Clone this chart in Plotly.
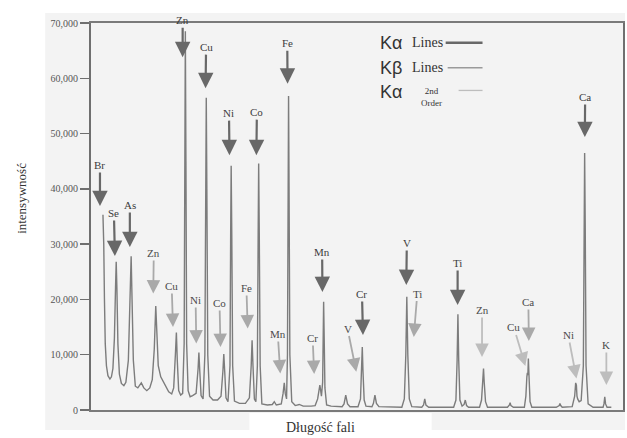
import plotly.graph_objects as go

# ---- spectrum trace (x: wavelength position, arbitrary units; y: intensity) ----
spec_x = [103.0, 103.8, 104.5, 105.3, 106.5, 108, 110, 111.5,
          113, 114.5, 115.6, 116.3, 117, 118, 119.5, 121.5, 124,
          126, 128.5, 130.3, 131.3, 132.2, 133.5, 135.5,
          138, 141.5, 144, 147, 150,
          152.5, 154.5, 156, 157, 158.5, 161, 165, 169, 172,
          174, 175.7, 176.7, 177.6, 179, 181, 183,
          184.5, 185.2, 185.7, 186.3, 187, 188.5, 190.5,
          193, 196.5, 198.5, 199.3, 200.2, 201.5, 203.5,
          205.3, 206.2, 206.7, 207.3, 208.2, 210, 213.5, 218,
          221.5, 223.4, 224.3, 225.2, 226.5, 228.5,
          230.5, 231.2, 231.7, 232.3, 233.2, 235, 240, 246,
          250, 251.8, 252.7, 253.6, 255, 256.5,
          258, 258.8, 259.3, 259.9, 260.8, 262.5, 268, 273, 275, 277, 282,
          283.8, 285, 286, 287.3,
          288.2, 288.9, 289.3, 289.8, 290.6, 292.5, 296, 300, 304, 312, 316,
          318.5, 320, 320.7, 321.5, 322.3,
          323.5, 324.1, 324.5, 325, 325.8, 327.5, 332, 343,
          345, 346.7, 348.5, 351, 359,
          361.5, 362.6, 363.3, 364, 365.2, 367, 373,
          374.5, 376, 377.5, 380, 403,
          405.5, 407, 408, 409, 410.5, 413, 423,
          424.8, 426, 427.2, 430, 455,
          457.3, 458.5, 459.3, 460.1, 461.3, 463.5, 465.5, 466.7, 468, 470, 481,
          483, 484.3, 485, 485.7, 487, 489, 509,
          511, 511.7, 512.5, 515, 526,
          527.5, 528.5, 529, 529.5, 530, 530.7, 531.7, 533.5, 558,
          561, 561.7, 562.5, 564, 574,
          576.5, 577.5, 578.2, 578.8, 579.5, 581, 583,
          585.2, 586, 586.5, 587.1, 587.9, 590, 595, 605,
          605.9, 606.7, 607.5, 609, 613.3]

spec_y = [35300, 30000, 20000, 12000, 8000, 6200, 5600, 6000,
          7500, 13000, 22000, 26800, 22000, 12000, 6500, 4800, 4400,
          5000, 9000, 20000, 27800, 20000, 9000, 4300,
          4000, 4900, 4000, 3500, 4000,
          5500, 11000, 18800, 14000, 8000, 6000, 4500, 3300, 2900,
          4000, 10000, 14000, 9000, 3500, 2700, 3000,
          12000, 45000, 68500, 45000, 12000, 3500, 2400,
          2600, 3000, 7500, 10400, 7000, 2600, 2000,
          10000, 40000, 56500, 40000, 10000, 2500, 1800, 1800,
          2500, 7000, 10100, 7000, 2200, 1500,
          8000, 32000, 44200, 32000, 8000, 1600, 1200, 1200,
          2200, 8000, 12600, 8000, 2000, 1500,
          8000, 32000, 44600, 32000, 8000, 1100, 900, 1000, 1500, 900, 1100,
          3000, 4900, 3000, 2000,
          10000, 40000, 56800, 40000, 10000, 1500, 800, 1000, 700, 700, 800,
          2000, 4000, 4500, 3600, 2500,
          5000, 14000, 19600, 14000, 4000, 900, 700, 600,
          1100, 2700, 1100, 600, 600,
          2000, 7000, 11400, 7000, 1800, 700, 600,
          1200, 2700, 1200, 600, 500,
          2000, 10000, 20500, 10000, 2000, 600, 500,
          900, 2000, 900, 500, 500,
          1800, 9000, 17300, 9000, 1800, 700, 1000, 1800, 800, 500, 500,
          1800, 5000, 7500, 5000, 1500, 500, 500,
          900, 1300, 800, 500, 500,
          2500, 6000, 6700, 6300, 9300, 6000, 1500, 500, 500,
          800, 1200, 800, 500, 600,
          2500, 4900, 4500, 2500, 2000, 1500, 1700,
          8000, 33000, 46500, 33000, 8000, 1100, 500, 500,
          1100, 2400, 1100, 500, 500]

assert len(spec_x) == len(spec_y)

# ---- line identifications (arrow tip = data position, label offset in px) ----
ka_labels = ['Br', 'Se', 'As', 'Zn', 'Cu', 'Ni', 'Co', 'Fe', 'Mn', 'Cr', 'V', 'Ti', 'Ca']
ka_tip_x = [100, 115, 130, 183, 206, 230, 257, 288.3, 323.3, 364, 407.5, 459, 586.7]
ka_tip_y = [36880, 27840, 29470, 63820, 58220, 46100, 46100, 59030, 21330, 13560, 22600, 18980, 49360]
ka_dx = [0, -1, 0, 0, 0.5, -0.5, 0.5, -0.3, -0.3, -1, 0.5, 0, 0.3]
ka_dy = [-41, -43, -42, -37, -41, -42, -43, -40.5, -40, -41, -42, -42, -40]

kb_labels = ['Zn', 'Cu', 'Ni', 'Co', 'Fe', 'Mn', 'Cr', 'V', 'Ti', 'Ca']
kb_tip_x = [153.5, 173.3, 196.7, 221, 248.3, 281, 315, 357.3, 415, 530.5]
kb_tip_y = [21060, 15010, 12020, 11390, 14740, 6600, 6510, 6920, 13200, 12480]
kb_dx = [0.5, -1.3, -0.7, -1, -1.3, -2.5, -1.5, -8.8, 3.5, -0.5]
kb_dy = [-40.5, -41, -43.5, -44, -40.5, -39.5, -36, -43.2, -43.5, -39]

so_labels = ['Zn', 'Cu', 'Ni', 'K']
so_tip_x = [483.5, 527, 578.3, 608.3]
so_tip_y = [9580, 7960, 5700, 4520]
so_dx = [0, -11.5, -8.3, 0]
so_dy = [-47, -38.5, -43.5, -40]

y_ticks = [0, 10000, 20000, 30000, 40000, 50000, 60000, 70000]

SERIF = 'Liberation Serif, Times New Roman, serif'
SANS = 'Liberation Sans, Arial, sans-serif'
GREY_BG = '#f3f3f3'
KA_COL = '#686868'
KB_COL = '#a9a9a9'
SO_COL = '#bdbdbd'

fig = go.Figure()
fig.add_trace(go.Scatter(x=spec_x, y=spec_y, mode='lines',
                         line=dict(color='#7c7c7c', width=1.4),
                         hoverinfo='skip', showlegend=False))

annotations = []


def add_arrows(labels, tx, ty, dx, dy, col, aw, asz, txtcol):
    for lab, x, y, ax, ay in zip(labels, tx, ty, dx, dy):
        annotations.append(dict(
            x=x, y=y, xref='x', yref='y', ax=ax, ay=ay,
            text=lab, showarrow=True, arrowhead=2, arrowsize=asz,
            arrowwidth=aw, arrowcolor=col, standoff=0,
            font=dict(family=SERIF, size=11, color=txtcol)))


add_arrows(ka_labels, ka_tip_x, ka_tip_y, ka_dx, ka_dy, KA_COL, 2.2, 1.4, '#3c3c3c')
add_arrows(kb_labels, kb_tip_x, kb_tip_y, kb_dx, kb_dy, KB_COL, 1.8, 1.5, '#4a4a4a')
add_arrows(so_labels, so_tip_x, so_tip_y, so_dx, so_dy, SO_COL, 1.8, 1.5, '#4a4a4a')

# ---- custom key (top right) ----
key = [
    dict(x=391.7, y=66410, text='Kα', font=dict(family=SANS, size=18, color='#333')),
    dict(x=428.7, y=66410, text='Lines', font=dict(family=SERIF, size=14, color='#333')),
    dict(x=391.7, y=61890, text='Kβ', font=dict(family=SANS, size=18, color='#333')),
    dict(x=428.7, y=61890, text='Lines', font=dict(family=SERIF, size=14, color='#333')),
    dict(x=392.5, y=57580, text='Kα', font=dict(family=SANS, size=18, color='#333')),
    dict(x=433, y=56600, text='2nd<br>Order', font=dict(family=SERIF, size=9, color='#333')),
]
for k in key:
    k.update(xref='x', yref='y', showarrow=False, xanchor='center', yanchor='middle')
    annotations.append(k)

# axis titles
annotations.append(dict(x=-0.1298, y=0.548, xref='paper', yref='paper', text='intensywność',
                        textangle=-90, showarrow=False, xanchor='center', yanchor='middle',
                        font=dict(family=SERIF, size=13, color='#333')))
annotations.append(dict(x=0.4316, y=-0.0465, xref='paper', yref='paper', text='Długość fali',
                        showarrow=False, xanchor='center', yanchor='middle',
                        font=dict(family=SERIF, size=14, color='#333')))

shapes = [
    dict(type='rect', xref='paper', yref='paper', x0=-0.0861, x1=1.0037, y0=-0.0517, y1=1.0258,
         fillcolor=GREY_BG, line=dict(width=0), layer='below'),
    dict(type='rect', xref='paper', yref='paper', x0=0.2978, x1=0.6404, y0=-0.0724, y1=-0.0078,
         fillcolor='#ffffff', line=dict(width=0), layer='below'),
    dict(type='line', xref='x', yref='y', x0=447, x1=484, y0=66410, y1=66410,
         line=dict(color=KA_COL, width=2.5)),
    dict(type='line', xref='x', yref='y', x0=449, x1=484, y0=61890, y1=61890,
         line=dict(color='#9a9a9a', width=1.5)),
    dict(type='line', xref='x', yref='y', x0=460, x1=484, y0=57800, y1=57800,
         line=dict(color=SO_COL, width=1.3)),
]

fig.update_layout(
    width=627, height=438, autosize=False,
    margin=dict(l=91, r=2, t=23, b=28, pad=0),
    paper_bgcolor='#ffffff', plot_bgcolor=GREY_BG,
    showlegend=False,
    annotations=annotations, shapes=shapes,
    xaxis=dict(range=[91, 625], showgrid=False, zeroline=False, showticklabels=False,
               ticks='', showline=True, mirror=True, linecolor='#7a7a7a', linewidth=2),
    yaxis=dict(range=[0, 70000], tickvals=y_ticks, tickformat=',', showgrid=False,
               zeroline=False, ticks='outside', ticklen=9, tickwidth=1.5, tickcolor='#6f6f6f',
               tickfont=dict(family=SERIF, size=10, color='#555'),
               showline=True, mirror=True, linecolor='#6f6f6f', linewidth=2),
)

fig.write_html('out.html',
               config={'displayModeBar': False, 'staticPlot': True},
               post_script="document.body.style.margin='0px';"
                           "document.body.style.overflow='hidden';")
